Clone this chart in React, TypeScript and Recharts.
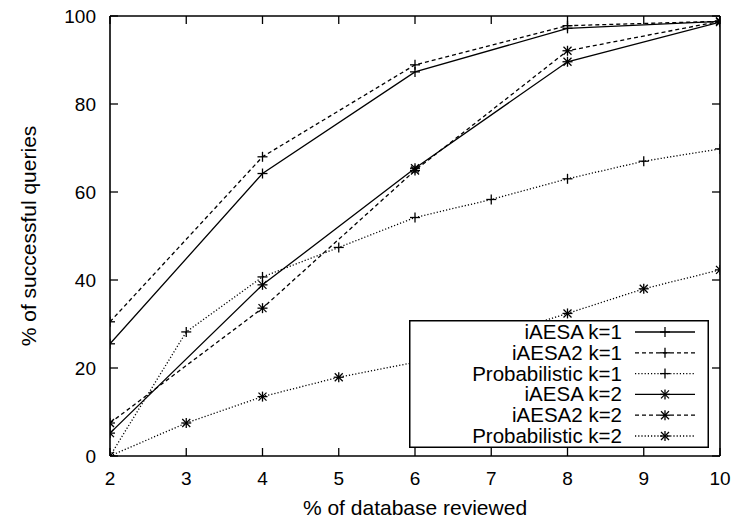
import React from 'react';
import { LineChart, Line, XAxis, YAxis, Legend, Label } from 'recharts';

const xAll = [2, 3, 4, 5, 6, 7, 8, 9, 10];
const xEven = [2, 4, 6, 8, 10];
const yTicks = [0, 20, 40, 60, 80, 100];

const iaesaK1 = [25.5, 64.2, 87.3, 97.2, 98.8];
const iaesa2K1 = [30.5, 68.0, 88.9, 97.8, 98.8];
const probK1 = [0, 28.2, 40.7, 47.4, 54.2, 58.3, 63.0, 67.0, 69.8];
const iaesaK2 = [5.2, 38.9, 65.4, 89.6, 98.6];
const iaesa2K2 = [7.5, 33.6, 64.9, 92.1, 98.8];
const probK2 = [0, 7.5, 13.5, 17.9, 21.3, 27.0, 32.4, 38.0, 42.3];

const FONT = '"Liberation Sans", Arial, Helvetica, sans-serif';
const DASHED = '4 3';
const DOTTED = '1.2 2';

const toRows = (xs: number[], ys: number[]) => xs.map((x, i) => ({ x, y: ys[i] }));

type Marker = 'plus' | 'star';

const series: { name: string; data: { x: number; y: number }[]; dash?: string; marker: Marker }[] = [
  { name: 'iAESA k=1', data: toRows(xEven, iaesaK1), marker: 'plus' },
  { name: 'iAESA2 k=1', data: toRows(xEven, iaesa2K1), dash: DASHED, marker: 'plus' },
  { name: 'Probabilistic k=1', data: toRows(xAll, probK1), dash: DOTTED, marker: 'plus' },
  { name: 'iAESA k=2', data: toRows(xEven, iaesaK2), marker: 'star' },
  { name: 'iAESA2 k=2', data: toRows(xEven, iaesa2K2), dash: DASHED, marker: 'star' },
  { name: 'Probabilistic k=2', data: toRows(xAll, probK2), dash: DOTTED, marker: 'star' },
];

function drawMarker(kind: Marker, cx: number, cy: number, key?: string) {
  const s = 5;
  const d = 4;
  return (
    <g key={key}>
      <line x1={cx - s} y1={cy} x2={cx + s} y2={cy} stroke="#000" strokeWidth={1.3} />
      <line x1={cx} y1={cy - s} x2={cx} y2={cy + s} stroke="#000" strokeWidth={1.3} />
      {kind === 'star' && (
        <>
          <line x1={cx - d} y1={cy - d} x2={cx + d} y2={cy + d} stroke="#000" strokeWidth={1.3} />
          <line x1={cx - d} y1={cy + d} x2={cx + d} y2={cy - d} stroke="#000" strokeWidth={1.3} />
        </>
      )}
    </g>
  );
}

const makeDot = (kind: Marker) => (props: any) => {
  const { cx, cy, index } = props;
  if (cx == null || cy == null) return <g key={`n${index}`} />;
  return drawMarker(kind, cx, cy, `d${index}`);
};

const TICK = 8;

const BottomTick = (props: any) => {
  const { x, y, payload } = props;
  return (
    <g>
      <line x1={x} y1={y} x2={x} y2={y - TICK} stroke="#000" strokeWidth={1.3} />
      <text x={x} y={y + 29} textAnchor="middle" fontSize={19} fontFamily={FONT} fill="#000">
        {payload.value}
      </text>
    </g>
  );
};

const TopTick = (props: any) => {
  const { x, y } = props;
  return <line x1={x} y1={y} x2={x} y2={y + TICK} stroke="#000" strokeWidth={1.3} />;
};

const LeftTick = (props: any) => {
  const { x, y, payload } = props;
  return (
    <g>
      <line x1={x} y1={y} x2={x + TICK} y2={y} stroke="#000" strokeWidth={1.3} />
      <text x={x - 14} y={y + 7} textAnchor="end" fontSize={19} fontFamily={FONT} fill="#000">
        {payload.value}
      </text>
    </g>
  );
};

const RightTick = (props: any) => {
  const { x, y } = props;
  return <line x1={x} y1={y} x2={x - TICK} y2={y} stroke="#000" strokeWidth={1.3} />;
};

const LegendBox = () => (
  <svg width={300} height={128} style={{ display: 'block' }}>
    <rect x={0.75} y={0.75} width={298.5} height={126.5} fill="#fff" stroke="#000" strokeWidth={1.5} />
    {series.map((s, i) => {
      const cy = 12 + i * 20.8;
      return (
        <g key={s.name}>
          <text x={213} y={cy + 7} textAnchor="end" fontSize={20.5} fontFamily={FONT} fill="#000">
            {s.name}
          </text>
          <line x1={226} y1={cy} x2={286} y2={cy} stroke="#000" strokeWidth={1.3} strokeDasharray={s.dash} />
          {drawMarker(s.marker, 256, cy)}
        </g>
      );
    })}
  </svg>
);

export default function App() {
  return (
    <div style={{ position: 'absolute', left: 0, top: 0, width: 736, height: 523, background: '#fff' }}>
      <LineChart width={736} height={523} margin={{ top: 15, right: 15, bottom: 66, left: 109 }}>
        <XAxis
          xAxisId="b"
          type="number"
          dataKey="x"
          domain={[2, 10]}
          ticks={xAll}
          height={1}
          tickSize={0}
          tickMargin={0}
          tickLine={false}
          axisLine={{ stroke: '#000', strokeWidth: 1.6 }}
          tick={<BottomTick />}
          interval={0}
          allowDataOverflow
        >
          <Label value="% of database reviewed" position="bottom" offset={43} fontSize={21} fontFamily={FONT} fill="#000" />
        </XAxis>
        <XAxis
          xAxisId="t"
          orientation="top"
          type="number"
          dataKey="x"
          domain={[2, 10]}
          ticks={xAll}
          height={1}
          tickSize={0}
          tickMargin={0}
          tickLine={false}
          axisLine={{ stroke: '#000', strokeWidth: 1.6 }}
          tick={<TopTick />}
          interval={0}
          allowDataOverflow
        />
        <YAxis
          yAxisId="l"
          type="number"
          domain={[0, 100]}
          ticks={yTicks}
          width={1}
          tickSize={0}
          tickMargin={0}
          tickLine={false}
          axisLine={{ stroke: '#000', strokeWidth: 1.6 }}
          tick={<LeftTick />}
          interval={0}
          allowDataOverflow
        >
          <Label value="% of successful queries" angle={-90} position="left" offset={85} dx={5} fontSize={21} fontFamily={FONT} fill="#000" style={{ textAnchor: 'middle' }} />
        </YAxis>
        <YAxis
          yAxisId="r"
          orientation="right"
          type="number"
          domain={[0, 100]}
          ticks={yTicks}
          width={1}
          tickSize={0}
          tickMargin={0}
          tickLine={false}
          axisLine={{ stroke: '#000', strokeWidth: 1.6 }}
          tick={<RightTick />}
          interval={0}
          allowDataOverflow
        />
        {series.map((s) => (
          <Line
            key={s.name}
            xAxisId="b"
            yAxisId="l"
            data={s.data}
            dataKey="y"
            name={s.name}
            type="linear"
            stroke="#000"
            strokeWidth={1.3}
            strokeDasharray={s.dash}
            dot={makeDot(s.marker)}
            activeDot={false}
            isAnimationActive={false}
          />
        ))}
        <Legend
          layout="vertical"
          align="center"
          verticalAlign="middle"
          content={<LegendBox />}
          wrapperStyle={{ position: 'absolute', left: 409, top: 320, width: 300, height: 128 }}
        />
      </LineChart>
    </div>
  );
}
